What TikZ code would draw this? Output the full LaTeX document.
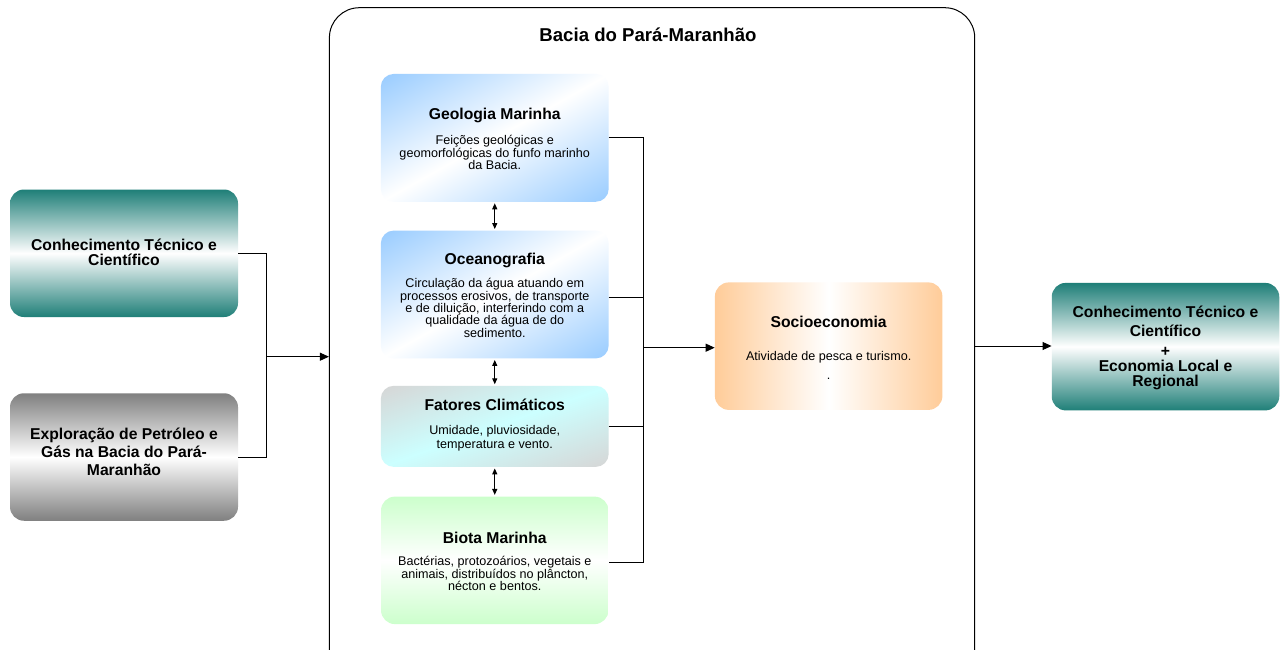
\documentclass[tikz,border=0pt]{standalone}
\usepackage{fontspec}
\setmainfont{Liberation Sans}
\usetikzlibrary{arrows.meta}
\definecolor{teal1}{RGB}{31,127,120}
\definecolor{gray1}{RGB}{128,128,128}
\definecolor{blue1}{RGB}{153,204,255}
\definecolor{cyan1}{RGB}{204,255,255}
\definecolor{gray2}{RGB}{214,214,214}
\definecolor{green1}{RGB}{204,255,204}
\definecolor{orange1}{RGB}{255,204,153}
\tikzset{
  box/.style={rectangle, rounded corners=14pt, inner sep=0pt, minimum width=227.5pt, minimum height=127.5pt},
  tealbox/.style={box, top color=teal1, bottom color=teal1, middle color=white},
  graybox/.style={box, top color=gray1, bottom color=gray1, middle color=white},
  greenbox/.style={box, top color=green1, bottom color=green1, middle color=white},
  orangebox/.style={box, left color=orange1, right color=orange1, middle color=white},
  ttl/.style={align=center, inner sep=0pt, font=\fontsize{15.7}{15}\selectfont\bfseries},
  bdy/.style={align=center, inner sep=0pt, font=\fontsize{12.6}{12.2}\selectfont},
  arr/.style={-{Triangle[length=9pt,width=8pt]}, line width=1pt},
  dbl/.style={{Triangle[length=6pt,width=5pt]}-{Triangle[length=6pt,width=5pt]}, line width=1.2pt, shorten <=1.5pt, shorten >=1.5pt},
  conn/.style={line width=1pt}
}
% diagonal shading of a box node: #1 node, #2 angle, #3 half extent, #4 corner colour, #5 middle colour
\newcommand\diagfill[5]{%
  \begin{scope}
    \clip[rounded corners=13pt] (#1.south west) rectangle (#1.north east);
    \begin{scope}[transform canvas={shift={(#1.center)}, rotate=#2}]
      \shade[top color=#4, bottom color=#4, middle color=#5] (-300,-#3) rectangle (300,#3);
    \end{scope}
  \end{scope}}
\begin{document}
\begin{tikzpicture}[x=1pt,y=-1pt]
\useasboundingbox (0,0) rectangle (1287,650);
\fill[white] (0,0) rectangle (1287,650);

% container
\node[draw, line width=1pt, rectangle, rounded corners=30pt, minimum width=645.3pt, minimum height=692pt, inner sep=0pt] (C) at (652.05,353.7) {};
\node[ttl, font=\fontsize{18.6}{18}\selectfont\bfseries] (CT) at (648,35) {Bacia do Pará-Maranhão};

% left boxes
\node[tealbox, minimum width=228pt] (L1) at (124,253.25) {};
\node[ttl] (L1t) at (124,252.5) {Conhecimento Técnico e\\Científico};
\node[graybox, minimum width=228pt] (L2) at (124,457) {};
\node[ttl, font=\fontsize{15.7}{18.3}\selectfont\bfseries] (L2t) at (124,451.7) {Exploração de Petróleo e\\Gás na Bacia do Pará-\\Maranhão};

% center boxes
\node[box] (G) at (494.75,137.85) {};
\diagfill{G}{29.27}{111}{blue1}{white}
\node[ttl] (Gt) at (494.75,115) {Geologia Marinha};
\node[bdy, font=\fontsize{12.6}{11.8}\selectfont] (Gb) at (494.75,152.4) {Feições geológicas e\\geomorfológicas do funfo marinho\\da Bacia.};

\node[box] (O) at (494.75,294.5) {};
\diagfill{O}{29.27}{111}{blue1}{white}
\node[ttl] (Ot) at (494.75,260) {Oceanografia};
\node[bdy, font=\fontsize{12.6}{12.4}\selectfont] (Ob) at (494.75,308) {Circulação da água atuando em\\processos erosivos, de transporte\\e de diluição, interferindo com a\\qualidade da água de do\\sedimento.};

\node[box, minimum height=80.7pt] (F) at (494.75,426.35) {};
\diagfill{F}{19.5}{76}{gray2}{cyan1}
\node[ttl] (Ft) at (494.75,404.5) {Fatores Climáticos};
\node[bdy, font=\fontsize{12.6}{13.5}\selectfont] (Fb) at (494.75,438.3) {Umidade, pluviosidade,\\temperatura e vento.};

\node[greenbox] (B) at (494.75,560.35) {};
\node[ttl] (Bt) at (494.75,538) {Biota Marinha};
\node[bdy, font=\fontsize{12.6}{12.5}\selectfont] (Bb) at (494.75,573.7) {Bactérias, protozoários, vegetais e\\animais, distribuídos no plâncton,\\nécton e bentos.};

% socioeconomia
\node[orangebox] (S) at (828.65,346.15) {};
\node[ttl] (St) at (828.65,322) {Socioeconomia};
\node[bdy, font=\fontsize{12.6}{19}\selectfont] (Sb) at (828.65,365) {Atividade de pesca e turismo.\\.};

% right box
\node[tealbox] (R) at (1165.5,346.65) {};
\node[ttl, font=\fontsize{15.7}{15}\selectfont\bfseries] (Rt) at (1165.5,348) {Conhecimento Técnico e\\[3.4pt]Científico\\[5pt]+\\Economia Local e\\Regional};

% left connectors
\coordinate (jL) at (266.5,356.7);
\draw[conn] (L1.east) -- (L1.east -| jL) -- (L2.east -| jL) -- (L2.east);
\draw[arr] (jL) -- (jL -| C.west);

% double arrows
\draw[dbl] (G.south) -- (O.north);
\draw[dbl] (O.south) -- (F.north);
\draw[dbl] (F.south) -- (B.north);

% right connectors
\coordinate (jR) at (643.3,347.7);
\coordinate (oE) at ([yshift=-2.8pt]O.east);
\coordinate (bE) at ([yshift=-2pt]B.east);
\draw[conn] (G.east) -- (G.east -| jR) -- (bE -| jR) -- (bE);
\draw[conn] (oE) -- (oE -| jR);
\draw[conn] (F.east) -- (F.east -| jR);
\draw[arr] (jR) -- (jR -| S.west);

% container to result
\coordinate (jC) at (975,346);
\draw[arr] (jC -| C.east) -- (jC -| R.west);
\end{tikzpicture}
\end{document}
